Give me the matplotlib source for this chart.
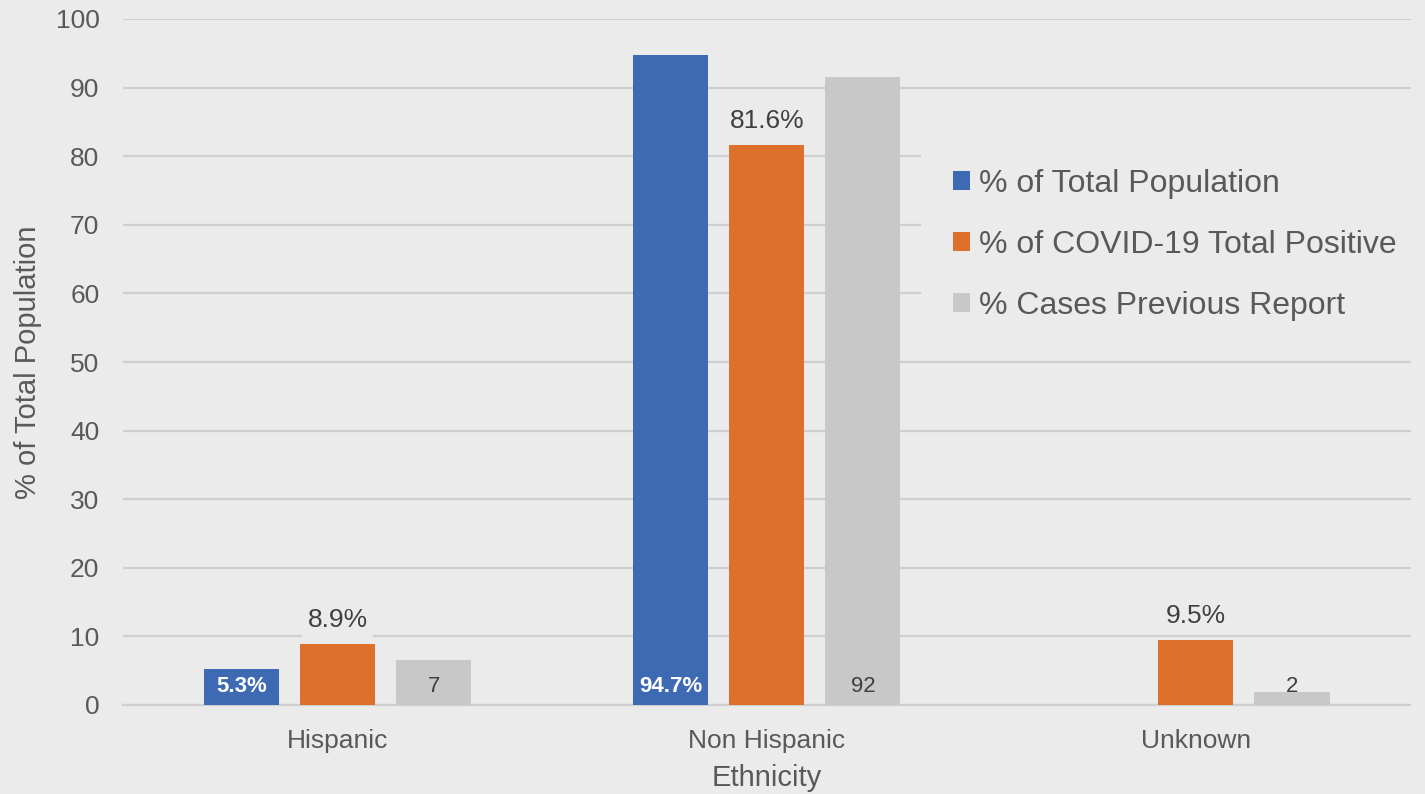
import matplotlib
matplotlib.use("Agg")
import matplotlib.pyplot as plt
from matplotlib.patches import Patch
import numpy as np

plt.rcParams['font.family'] = ['Liberation Sans', 'DejaVu Sans']

categories = ["Hispanic", "Non Hispanic", "Unknown"]
series_names = ["% of Total Population", "% of COVID-19 Total Positive", "% Cases Previous Report"]
pop_values = [5.3, 94.7, 0]
pos_values = [8.9, 81.6, 9.5]
prev_values = [6.5, 91.5, 1.9]
prev_labels = ["7", "92", "2"]
yticks = [0, 10, 20, 30, 40, 50, 60, 70, 80, 90, 100]

BG = "#EBEBEB"
GRID = "#CFCFCF"
BLUE = "#3E6AB4"
ORANGE = "#DD712C"
GRAY = "#C8C8C8"
TICK = "#595959"
LAB = "#404040"

fig = plt.figure(figsize=(14.25, 7.94), dpi=100, facecolor=BG)
ax = fig.add_axes([123/1425, 1-705/794, (1410.5-123)/1425, (705-19)/794])
ax.set_facecolor(BG)

x = np.arange(len(categories))
w = 0.175
off = 0.224
b1 = ax.bar(x - off, pop_values, w, color=BLUE, zorder=3)
b2 = ax.bar(x, pos_values, w, color=ORANGE, zorder=3)
b3 = ax.bar(x + off, prev_values, w, color=GRAY, zorder=3)

ax.set_xlim(-0.5, 2.5)
ax.set_ylim(0, 100)
ax.set_yticks(yticks)
ax.set_xticks(x)
ax.set_xticklabels(categories)
ax.grid(axis='y', color=GRID, linewidth=1.6, zorder=0)
ax.set_axisbelow(True)
for s in ['top', 'right', 'left']:
    ax.spines[s].set_visible(False)
ax.spines['bottom'].set_color(GRID)
ax.spines['bottom'].set_linewidth(1.6)
ax.tick_params(axis='both', length=0, labelsize=19, colors=TICK)
ax.tick_params(axis='y', pad=17)
ax.tick_params(axis='x', pad=17)
ax.set_xlabel("Ethnicity", fontsize=21, color=TICK, labelpad=8.5)
ax.set_ylabel("% of Total Population", fontsize=21, color=TICK, labelpad=10)

for xi, v in zip(x, pop_values):
    if v:
        ax.annotate(f"{v:.1f}%", (xi - off, 0), xytext=(0, 13), textcoords='offset points',
                    ha='center', va='center', fontsize=16, fontweight='bold', color='white', zorder=4)
for xi, v in zip(x, pos_values):
    ax.annotate(f"{v:.1f}%", (xi, v), xytext=(0, 17.5), textcoords='offset points',
                ha='center', va='center', fontsize=19, color=LAB, zorder=4,
                bbox=dict(boxstyle='square,pad=0.2', facecolor=BG, edgecolor='none'))
for xi, lab in zip(x, prev_labels):
    ax.annotate(lab, (xi + off, 0), xytext=(0, 13), textcoords='offset points',
                ha='center', va='center', fontsize=16, color=LAB, zorder=4)

handles = [Patch(facecolor=c, edgecolor='none') for c in (BLUE, ORANGE, GRAY)]
leg = ax.legend(handles, series_names, loc='upper left', bbox_to_anchor=(921/1425, 1-137/794),
                bbox_transform=fig.transFigure, frameon=True, fontsize=23,
                handlelength=0.53, handleheight=0.53, handletextpad=0.3,
                labelspacing=0.97, borderpad=1.0, borderaxespad=0)
leg.get_frame().set_facecolor(BG)
leg.get_frame().set_edgecolor('none')
leg.get_frame().set_alpha(1)
leg.set_zorder(5)
for t in leg.get_texts():
    t.set_color(TICK)

fig.savefig("out.png", dpi=100, facecolor=BG)
